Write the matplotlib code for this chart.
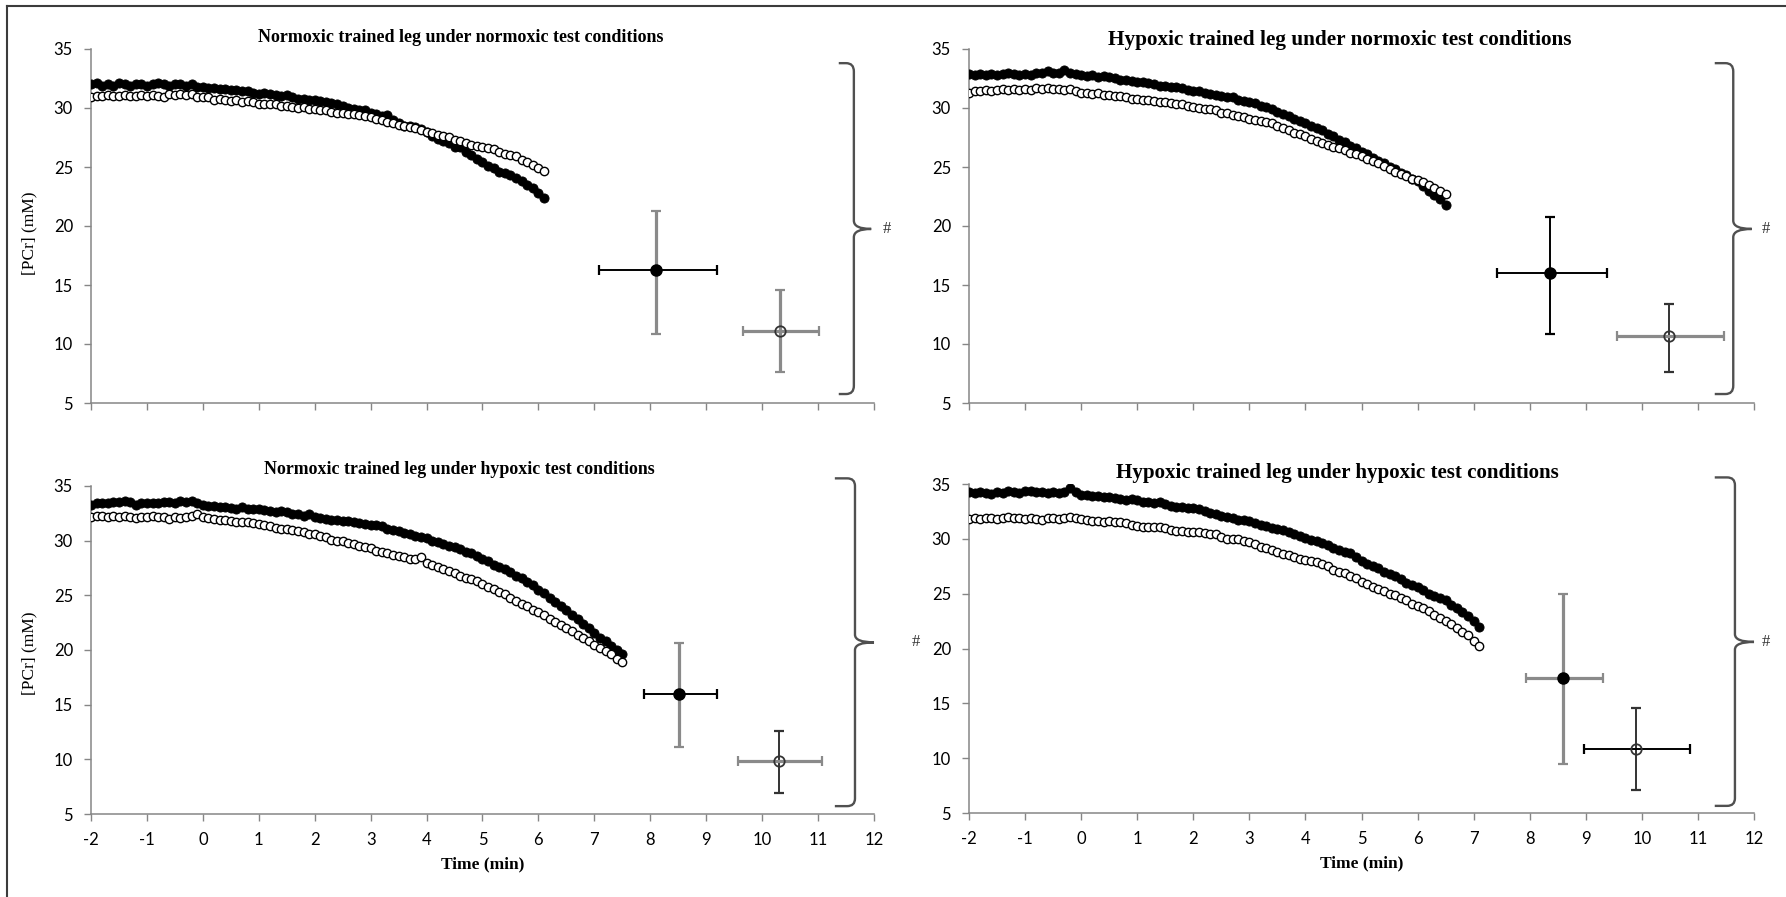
import numpy as np
import matplotlib
matplotlib.use("Agg")
import matplotlib.pyplot as plt
from matplotlib.path import Path
from matplotlib.patches import PathPatch
from matplotlib.lines import Line2D

# ---------------- data ----------------
panel_titles = [
    "Normoxic trained leg under normoxic test conditions",
    "Hypoxic trained leg under normoxic test conditions",
    "Normoxic trained leg under hypoxic test conditions",
    "Hypoxic trained leg under hypoxic test conditions",
]
x_ticks = [-2, -1, 0, 1, 2, 3, 4, 5, 6, 7, 8, 9, 10, 11, 12]
y_ticks = [5, 10, 15, 20, 25, 30, 35]
t_start = -2.0
t_step = 0.1   # min between spectra

tl_filled = [32.0, 32.1, 31.9, 32.0, 31.9, 32.1, 32.0, 31.9, 32.0, 32.0,
             31.9, 32.0, 32.1, 32.0, 31.9, 32.0, 32.0, 31.9, 32.0, 31.8,
             31.8, 31.7, 31.7, 31.6, 31.6, 31.5, 31.5, 31.4, 31.4, 31.3,
             31.2, 31.3, 31.2, 31.1, 31.0, 31.1, 30.9, 30.8, 30.8, 30.7,
             30.7, 30.6, 30.5, 30.4, 30.3, 30.2, 30.0, 29.9, 29.8, 29.8,
             29.6, 29.5, 29.3, 29.4, 29.0, 28.7, 28.5, 28.5, 28.4, 28.2,
             28.0, 27.6, 27.4, 27.2, 27.0, 26.7, 26.7, 26.3, 26.0, 25.7,
             25.4, 25.1, 24.9, 24.6, 24.5, 24.3, 24.1, 23.8, 23.5, 23.2,
             22.8, 22.4]
tl_open = [30.9, 31.0, 31.0, 31.1, 31.0, 31.0, 31.1, 31.0, 31.0, 31.1,
           31.0, 31.1, 31.0, 30.9, 31.2, 31.1, 31.2, 31.1, 31.2, 30.9,
           30.9, 30.9, 30.7, 30.8, 30.7, 30.6, 30.7, 30.5, 30.6, 30.5,
           30.3, 30.3, 30.3, 30.3, 30.2, 30.2, 30.1, 30.0, 30.1, 29.9,
           29.9, 29.8, 29.8, 29.7, 29.6, 29.6, 29.5, 29.5, 29.4, 29.3,
           29.2, 29.1, 29.0, 28.8, 28.7, 28.6, 28.5, 28.4, 28.3, 28.1,
           28.0, 27.9, 27.7, 27.6, 27.5, 27.3, 27.2, 27.0, 26.9, 26.8,
           26.7, 26.6, 26.5, 26.3, 26.1, 26.0, 25.9, 25.6, 25.4, 25.2,
           24.9, 24.7]

tr_filled = [32.9, 32.8, 32.9, 32.8, 32.9, 32.8, 32.9, 33.0, 32.9, 32.8,
             32.9, 32.8, 33.0, 33.0, 33.1, 33.0, 33.0, 33.2, 33.0, 32.9,
             32.8, 32.7, 32.8, 32.6, 32.7, 32.6, 32.5, 32.4, 32.4, 32.3,
             32.2, 32.2, 32.1, 32.0, 31.9, 31.9, 31.8, 31.8, 31.7, 31.5,
             31.4, 31.4, 31.3, 31.2, 31.1, 31.0, 30.9, 30.9, 30.7, 30.6,
             30.5, 30.4, 30.2, 30.1, 29.9, 29.7, 29.5, 29.3, 29.1, 28.9,
             28.7, 28.5, 28.3, 28.1, 27.8, 27.6, 27.3, 27.1, 26.8, 26.6,
             26.3, 26.1, 25.8, 25.5, 25.3, 25.0, 24.8, 24.5, 24.3, 24.0,
             23.8, 23.4, 23.0, 22.6, 22.3, 21.8]
tr_open = [31.3, 31.4, 31.4, 31.5, 31.4, 31.5, 31.6, 31.5, 31.6, 31.5,
           31.6, 31.5, 31.7, 31.6, 31.7, 31.6, 31.6, 31.5, 31.6, 31.4,
           31.3, 31.3, 31.2, 31.3, 31.1, 31.1, 31.0, 31.0, 30.9, 30.8,
           30.8, 30.7, 30.7, 30.6, 30.5, 30.5, 30.4, 30.3, 30.3, 30.2,
           30.1, 30.0, 29.9, 29.9, 29.8, 29.6, 29.6, 29.4, 29.3, 29.2,
           29.1, 29.0, 28.9, 28.8, 28.7, 28.5, 28.3, 28.1, 27.9, 27.8,
           27.6, 27.4, 27.2, 27.0, 26.9, 26.7, 26.6, 26.4, 26.2, 26.1,
           25.9, 25.7, 25.5, 25.3, 25.1, 24.8, 24.6, 24.4, 24.2, 24.0,
           23.9, 23.7, 23.5, 23.2, 23.0, 22.7]

bl_filled = [33.3, 33.4, 33.4, 33.4, 33.5, 33.5, 33.6, 33.5, 33.3, 33.4,
             33.4, 33.4, 33.4, 33.5, 33.5, 33.4, 33.6, 33.5, 33.6, 33.4,
             33.3, 33.2, 33.2, 33.1, 33.1, 33.0, 32.9, 33.1, 32.9, 32.9,
             32.9, 32.8, 32.7, 32.6, 32.7, 32.6, 32.4, 32.4, 32.3, 32.4,
             32.2, 32.1, 32.0, 31.9, 31.9, 31.8, 31.8, 31.7, 31.6, 31.5,
             31.4, 31.4, 31.3, 31.1, 31.0, 30.9, 30.7, 30.6, 30.4, 30.3,
             30.2, 30.0, 29.9, 29.7, 29.5, 29.4, 29.2, 29.0, 28.9, 28.6,
             28.3, 28.1, 27.8, 27.6, 27.4, 27.1, 26.8, 26.6, 26.2, 25.9,
             25.5, 25.2, 24.8, 24.4, 24.0, 23.7, 23.2, 22.8, 22.4, 22.0,
             21.6, 21.1, 20.8, 20.4, 20.0, 19.6]
bl_open = [32.2, 32.3, 32.3, 32.2, 32.3, 32.2, 32.3, 32.2, 32.1, 32.2,
           32.2, 32.3, 32.2, 32.2, 32.0, 32.2, 32.1, 32.2, 32.3, 32.4,
           32.2, 32.1, 32.0, 31.9, 31.9, 31.8, 31.7, 31.7, 31.7, 31.6,
           31.5, 31.4, 31.3, 31.2, 31.1, 31.1, 31.0, 30.9, 30.8, 30.6,
           30.6, 30.4, 30.3, 30.1, 30.0, 30.0, 29.8, 29.7, 29.5, 29.4,
           29.3, 29.1, 29.0, 28.9, 28.7, 28.6, 28.5, 28.3, 28.3, 28.5,
           28.0, 27.8, 27.6, 27.4, 27.2, 27.0, 26.8, 26.6, 26.5, 26.3,
           26.0, 25.8, 25.6, 25.3, 25.1, 24.8, 24.5, 24.2, 24.0, 23.7,
           23.5, 23.2, 22.8, 22.6, 22.3, 22.0, 21.7, 21.4, 21.1, 20.8,
           20.5, 20.2, 19.9, 19.6, 19.2, 18.9]

br_filled = [34.3, 34.2, 34.3, 34.2, 34.1, 34.3, 34.2, 34.4, 34.3, 34.2,
             34.4, 34.4, 34.3, 34.3, 34.2, 34.3, 34.2, 34.3, 34.6, 34.3,
             34.0, 34.0, 33.9, 33.9, 33.8, 33.8, 33.7, 33.6, 33.5, 33.6,
             33.5, 33.4, 33.4, 33.3, 33.4, 33.2, 33.0, 32.9, 32.9, 32.8,
             32.8, 32.7, 32.5, 32.4, 32.3, 32.1, 32.0, 31.9, 31.7, 31.7,
             31.6, 31.4, 31.3, 31.2, 31.0, 30.9, 30.8, 30.6, 30.4, 30.3,
             30.1, 29.9, 29.8, 29.6, 29.4, 29.2, 29.0, 28.8, 28.7, 28.3,
             28.0, 27.7, 27.5, 27.3, 27.0, 26.8, 26.6, 26.3, 26.0, 25.8,
             25.6, 25.3, 25.0, 24.8, 24.6, 24.4, 24.0, 23.7, 23.3, 23.0,
             22.5, 22.0]
br_open = [31.8, 31.9, 31.8, 31.9, 31.9, 31.8, 31.9, 32.0, 31.9, 31.9,
           31.8, 31.9, 31.8, 31.7, 31.9, 31.9, 31.8, 31.9, 32.0, 31.9,
           31.8, 31.7, 31.6, 31.6, 31.5, 31.6, 31.5, 31.5, 31.4, 31.3,
           31.2, 31.1, 31.1, 31.1, 31.1, 31.0, 30.8, 30.7, 30.7, 30.6,
           30.6, 30.6, 30.5, 30.4, 30.4, 30.2, 30.0, 30.0, 30.0, 29.8,
           29.7, 29.5, 29.3, 29.2, 29.0, 28.8, 28.6, 28.5, 28.3, 28.2,
           28.1, 28.0, 27.9, 27.7, 27.5, 27.2, 27.0, 26.9, 26.6, 26.4,
           26.1, 25.9, 25.6, 25.4, 25.2, 25.0, 24.9, 24.6, 24.4, 24.1,
           23.9, 23.7, 23.4, 23.1, 22.8, 22.5, 22.2, 21.9, 21.5, 21.2,
           20.7, 20.2]

filled_series = [tl_filled, tr_filled, bl_filled, br_filled]
open_series = [tl_open, tr_open, bl_open, br_open]

# end-exercise mean +/- SD (time to exhaustion, [PCr])
end_x_filled = [8.10, 8.37, 8.51, 8.59]
end_xlo_filled = [7.09, 7.42, 7.88, 7.93]
end_xhi_filled = [9.19, 9.37, 9.19, 9.30]
end_y_filled = [16.27, 16.00, 15.94, 17.34]
end_ylo_filled = [10.85, 10.85, 11.09, 9.48]
end_yhi_filled = [21.30, 20.80, 20.66, 24.95]

end_x_open = [10.32, 10.49, 10.31, 9.90]
end_xlo_open = [9.65, 9.56, 9.57, 8.97]
end_xhi_open = [11.02, 11.47, 11.07, 10.85]
end_y_open = [11.13, 10.68, 9.87, 10.84]
end_ylo_open = [7.65, 7.65, 6.94, 7.11]
end_yhi_open = [14.58, 13.40, 12.61, 14.55]

sig_mark = "#"

# ---------------- style ----------------
W, H = 1786, 897
fig = plt.figure(figsize=(W / 100, H / 100), dpi=100)

rects = [
    [91 / W, (H - 403) / H, 783 / W, 354 / H],
    [969 / W, (H - 403) / H, 785 / W, 354 / H],
    [91 / W, (H - 814) / H, 783 / W, 328 / H],
    [969 / W, (H - 813) / H, 785 / W, 329 / H],
]
title_pos = [(461, 37, 13.0), (1340, 40, 15.3), (459, 469, 12.9), (1337, 473, 15.1)]

GRAY = "#8a8a8a"
DARK = "#333333"
BLACK = "#000000"
# (filled vertical, filled horizontal, open vertical, open horizontal)
err_colors = [
    (GRAY, BLACK, GRAY, GRAY),
    (BLACK, BLACK, DARK, GRAY),
    (GRAY, BLACK, DARK, GRAY),
    (GRAY, GRAY, DARK, BLACK),
]
# bracket geometry (x_hook, x_line, x_tip, y_top, y_bot, y_mid, x_hash)
brackets = [
    (11.37, 11.64, 11.95, 33.8, 5.76, 19.75, 12.23),
    (11.30, 11.63, 11.96, 33.8, 5.76, 19.75, 12.21),
    (11.30, 11.66, 12.00, 35.7, 5.72, 20.70, 12.75),
    (11.30, 11.66, 12.00, 35.6, 5.65, 20.60, 12.21),
]

SERIF = ["Liberation Serif", "DejaVu Serif"]
TICKFONT = ["Lato", "DejaVu Sans"]


def draw_bracket(ax, xh, xl, xt, yt, yb, ym):
    rx, ry = 0.14, 0.7
    verts = [
        (xh, yt), (xl - rx, yt),
        (xl, yt), (xl, yt - ry),
        (xl, ym + ry),
        (xl, ym), (xt, ym),
        (xl, ym), (xl, ym - ry),
        (xl, yb + ry),
        (xl, yb), (xl - rx, yb),
        (xh, yb),
    ]
    codes = [Path.MOVETO, Path.LINETO,
             Path.CURVE3, Path.CURVE3,
             Path.LINETO,
             Path.CURVE3, Path.CURVE3,
             Path.CURVE3, Path.CURVE3,
             Path.LINETO,
             Path.CURVE3, Path.CURVE3,
             Path.LINETO]
    patch = PathPatch(Path(verts, codes), facecolor="none", edgecolor="#505050",
                      lw=1.7, clip_on=False, transform=ax.transData)
    ax.add_patch(patch)


def err(ax, x, y, lo, hi, color, axis):
    d = [[(x if axis == "x" else y) - lo], [hi - (x if axis == "x" else y)]]
    kw = dict(xerr=d) if axis == "x" else dict(yerr=d)
    ax.errorbar([x], [y], fmt="none", ecolor=color,
                elinewidth=2.3 if color == GRAY else 1.4,
                capsize=3.5, capthick=1.6, zorder=5, **kw)


for i in range(4):
    ax = fig.add_axes(rects[i])
    fvals = np.array(filled_series[i])
    ovals = np.array(open_series[i])
    tf = t_start + t_step * np.arange(len(fvals))
    to = t_start + t_step * np.arange(len(ovals))

    ax.plot(tf, fvals, linestyle="none", marker="o", ms=6.6, mfc="black",
            mec="black", mew=0.6, zorder=3)
    ax.plot(to, ovals, linestyle="none", marker="o", ms=6.0, mfc="white",
            mec="black", mew=1.0, zorder=4)

    fv, fh, ov, oh = err_colors[i]
    xf, yf = end_x_filled[i], end_y_filled[i]
    err(ax, xf, yf, end_ylo_filled[i], end_yhi_filled[i], fv, "y")
    err(ax, xf, yf, end_xlo_filled[i], end_xhi_filled[i], fh, "x")
    ax.plot([xf], [yf], "o", ms=8, mfc="black", mec="black", zorder=6)

    xo, yo = end_x_open[i], end_y_open[i]
    err(ax, xo, yo, end_ylo_open[i], end_yhi_open[i], ov, "y")
    err(ax, xo, yo, end_xlo_open[i], end_xhi_open[i], oh, "x")
    ax.plot([xo], [yo], "o", ms=7.5, mfc="none", mec="#333333", mew=1.3, zorder=6)

    ax.set_xlim(-2, 12)
    ax.set_ylim(5, 35)
    ax.set_xticks(x_ticks)
    ax.set_yticks(y_ticks)
    for s in ("top", "right"):
        ax.spines[s].set_visible(False)
    for s in ("left", "bottom"):
        ax.spines[s].set_color("#868686")
        ax.spines[s].set_linewidth(1.1)
    ax.tick_params(axis="both", direction="out", length=5, width=1.0,
                   color="#868686", labelsize=12, pad=8)
    for lab in ax.get_yticklabels():
        lab.set_family(TICKFONT)
    if i < 2:
        ax.set_xticklabels([])
    else:
        ax.set_xticklabels([str(v) for v in x_ticks])
        for lab in ax.get_xticklabels():
            lab.set_family(TICKFONT)
        ax.set_xlabel("Time (min)", family=SERIF, fontweight="bold", fontsize=12.5,
                      labelpad=6)
    if i in (0, 2):
        ax.set_ylabel("[PCr] (mM)", family=SERIF, fontsize=12.5)
        ax.yaxis.set_label_coords(-0.068, 0.48 if i == 0 else 0.49)

    xh, xl, xt, yt, yb, ym, xhash = brackets[i]
    draw_bracket(ax, xh, xl, xt, yt, yb, ym)
    ax.text(xhash, ym, sig_mark, ha="center", va="center", fontsize=12,
            family=SERIF, color="#333333", clip_on=False)

    cx, cy, fs = title_pos[i]
    fig.text(cx / W, 1 - cy / H, panel_titles[i], ha="center", va="center",
             family=SERIF, fontweight="bold", fontsize=fs)

# outer frame (top and left edges)
fig.add_artist(Line2D([7 / W, 7 / W], [0, 1 - 6 / H], transform=fig.transFigure,
                      color="#3c3c3c", lw=1.5))
fig.add_artist(Line2D([7 / W, 1], [1 - 6 / H, 1 - 6 / H], transform=fig.transFigure,
                      color="#3c3c3c", lw=1.5))

fig.savefig("out.png", dpi=100)
